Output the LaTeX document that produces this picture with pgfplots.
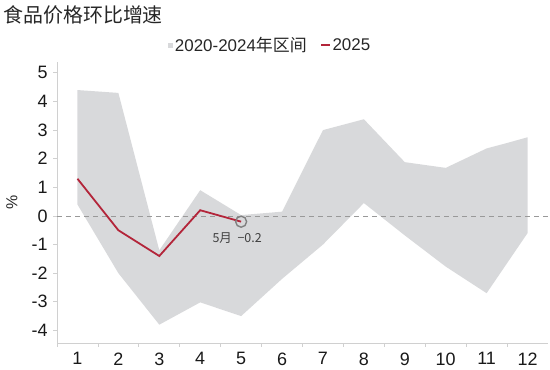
\documentclass[border=0pt]{standalone}
\usepackage{pgfplots}
\pgfplotsset{compat=1.18}
\usepgfplotslibrary{fillbetween}
\usepackage{fontspec}
\setmainfont{Liberation Sans}
\newfontfamily\cjk{Noto Sans CJK SC}
\definecolor{bandgray}{HTML}{D8D9DB}
\definecolor{linered}{HTML}{B3253A}
\definecolor{axgray}{HTML}{D0D0D0}
\begin{document}
\begin{tikzpicture}
\path (0bp,0bp) rectangle (550bp,370bp);
\node[anchor=west, font=\cjk\fontsize{20}{22}\selectfont, text=black!85] at (0bp,355bp) {食品价格环比增速};
\begin{axis}[
  at={(57bp,27bp)}, anchor=south west,
  scale only axis, width=491bp, height=281bp,
  xmin=0.5, xmax=12.5, ymin=-4.44, ymax=5.38,
  axis x line=bottom, axis y line=left,
  axis line style={axgray, line width=0.8pt, -},
  xtick={1,...,12}, ytick={-4,...,5},
  minor xtick={0.5,1.5,...,11.5},
  major x tick style={draw=none},
  minor tick length=4bp, major tick length=4bp,
  tick align=outside,
  tick style={axgray, line width=0.8pt},
  ticklabel style={font=\fontsize{18}{20}\selectfont, text=black!90},
  xticklabel style={yshift=-2bp},
  yticklabel style={xshift=-2bp},
  /pgf/number format/assume math mode=true,
  ylabel={\%}, ylabel style={font=\fontsize{16}{18}\selectfont, text=black!85,
    at={(axis description cs:-0.092,0.5)}, anchor=center},
  legend style={at={(0.434,1.06)}, anchor=center, draw=none, fill=none,
    legend columns=2, font=\fontsize{17}{19}\selectfont, text=black!85,
    nodes={inner xsep=1.5bp},
    /tikz/every even column/.append style={column sep=12bp}},
  legend cell align=left,
  clip=false,
]
\addplot[name path=upper, draw=none, forget plot] coordinates {
(1,4.4) (2,4.3) (3,-1.2) (4,0.9) (5,0.03) (6,0.15) (7,3.0) (8,3.38) (9,1.88) (10,1.68) (11,2.36) (11.5,2.55) (12,2.75)};
\addplot[name path=lower, draw=none, forget plot] coordinates {
(1,0.4) (2,-2.0) (3,-3.8) (4,-3.02) (5,-3.5) (6,-2.2) (7,-1.0) (8,0.45) (9,-0.68) (10,-1.77) (11,-2.7) (12,-0.6)};
\addplot[fill=bandgray, draw=none, area legend,
  legend image code/.code={\fill[bandgray] (0bp,-2.5bp) rectangle (5bp,2.5bp);}]
  fill between[of=upper and lower];
\addlegendentry{2020-2024{\cjk 年区间}}
\addplot[gray!80, dashed, dash pattern=on 5bp off 4bp, line width=0.9pt, forget plot] coordinates {(0.5,0) (12.5,0)};
\addplot[linered, line width=1.8pt, mark=none,
  legend image code/.code={\draw[linered, line width=1.8pt] (0bp,0bp) -- (9bp,0bp);}]
  coordinates {(1,1.3) (2,-0.5) (3,-1.4) (4,0.2) (5,-0.2)};
\addlegendentry{2025}
\addplot[only marks, mark=o, mark size=5.5bp, mark options={draw=gray, line width=1.4pt}, forget plot] coordinates {(5,-0.2)};
\node[anchor=north, font=\cjk\fontsize{12.5}{14}\selectfont, text=black!75, xshift=-4bp, yshift=-8bp] at (axis cs:5,-0.2) {5月\ \ −0.2};
\end{axis}
\end{tikzpicture}
\end{document}
